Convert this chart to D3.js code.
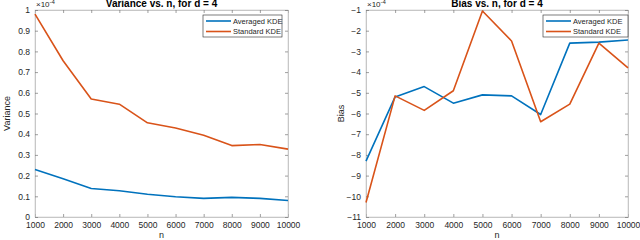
<!DOCTYPE html>
<html><head><meta charset="utf-8">
<script src="https://cdn.jsdelivr.net/npm/d3@7"></script>
<style>body{margin:0;background:#fff}svg{display:block}text{font-family:Helvetica,"Liberation Sans",Arial,sans-serif}</style>
</head><body><svg id="c" width="640" height="240"></svg>
<script>
const nValues = [1000,2000,3000,4000,5000,6000,7000,8000,9000,10000];
const varAveraged = [0.23,0.185,0.138,0.127,0.11,0.098,0.09,0.095,0.09,0.08];
const varStandard = [0.98,0.755,0.57,0.545,0.455,0.43,0.395,0.345,0.35,0.328];
const biasAveraged = [-8.3,-5.2,-4.7,-5.5,-5.1,-5.15,-6.05,-2.6,-2.55,-2.45];
const biasStandard = [-10.3,-5.15,-5.85,-4.9,-1.05,-2.5,-6.4,-5.55,-2.6,-3.8];
const varTicks = [0,0.1,0.2,0.3,0.4,0.5,0.6,0.7,0.8,0.9,1];
const biasTicks = [-11,-10,-9,-8,-7,-6,-5,-4,-3,-2,-1];
const seriesNames = ["Averaged KDE","Standard KDE"];
const colors = ["#0072BD","#D95319"];

const svg = d3.select("#c");
const axColor = "#262626";

function panel(o){
  const g = svg.append("g");
  const x = d3.scaleLinear().domain([1000,10000]).range([o.x0,o.x1]);
  const y = d3.scaleLinear().domain(o.ydom).range([o.y1,o.y0]);
  // box
  g.append("rect").attr("x",o.x0).attr("y",o.y0).attr("width",o.x1-o.x0).attr("height",o.y1-o.y0)
    .attr("fill","none").attr("stroke","#c8c8c8").attr("stroke-width",0.6);
  const fmtX = d3.format("d");
  const bx = g.append("g").attr("transform",`translate(0,${o.y1})`)
    .call(d3.axisBottom(x).tickValues(nValues).tickFormat(fmtX).tickSize(-3).tickPadding(5));
  const tx = g.append("g").attr("transform",`translate(0,${o.y0})`)
    .call(d3.axisTop(x).tickValues(nValues).tickFormat("").tickSize(-3));
  const ly = g.append("g").attr("transform",`translate(${o.x0},0)`)
    .call(d3.axisLeft(y).tickValues(o.yticks).tickFormat(o.yfmt).tickSize(-3).tickPadding(5));
  const ry = g.append("g").attr("transform",`translate(${o.x1},0)`)
    .call(d3.axisRight(y).tickValues(o.yticks).tickFormat("").tickSize(-3));
  [bx,tx,ly,ry].forEach(a=>{
    a.select(".domain").attr("stroke","#bdbdbd").attr("stroke-width",0.8);
    a.selectAll(".tick line").attr("stroke","#777").attr("stroke-width",0.7);
    a.selectAll("text").attr("fill",axColor).attr("font-size",8.5);
  });
  const line = d3.line().x((d,i)=>x(nValues[i])).y(d=>y(d));
  o.series.forEach((s,i)=>{
    g.append("path").datum(s).attr("d",line).attr("fill","none")
      .attr("stroke",colors[i]).attr("stroke-width",1.6).attr("stroke-linejoin","round");
  });
  // title
  g.append("text").attr("x",(o.x0+o.x1)/2).attr("y",7).attr("text-anchor","middle")
    .attr("font-size",10).attr("font-weight","bold").attr("fill","#000").text(o.title);
  // exponent
  const ex = g.append("text").attr("x",o.x0+1).attr("y",7).attr("font-size",8).attr("fill",axColor);
  ex.append("tspan").text("\u00d710");
  ex.append("tspan").attr("dy",-3).attr("font-size",6).text("-4");
  // axis labels
  g.append("text").attr("x",(o.x0+o.x1)/2).attr("y",238).attr("text-anchor","middle")
    .attr("font-size",9).attr("fill",axColor).text("n");
  g.append("text").attr("transform",`translate(${o.ylx},${(o.y0+o.y1)/2}) rotate(-90)`)
    .attr("text-anchor","middle").attr("font-size",9).attr("fill",axColor).text(o.ylabel);
  // legend
  const lg = g.append("g").attr("transform",`translate(${o.lx},${o.ly})`);
  lg.append("rect").attr("width",o.lw).attr("height",22).attr("fill","#fff")
    .attr("stroke","#262626").attr("stroke-width",0.6);
  seriesNames.forEach((nm,i)=>{
    const yy = 6+i*10.5;
    lg.append("line").attr("x1",3).attr("x2",28).attr("y1",yy).attr("y2",yy)
      .attr("stroke",colors[i]).attr("stroke-width",1.6);
    lg.append("text").attr("x",30).attr("y",yy+2.8).attr("font-size",7.5).attr("fill",axColor).text(nm);
  });
}

panel({x0:35,x1:288,y0:10,y1:217,ydom:[0,1],yticks:varTicks,yfmt:d3.format(""),
  series:[varAveraged,varStandard],title:"Variance vs. n, for d = 4",ylabel:"Variance",ylx:10,
  lx:203,ly:15,lw:79});
panel({x0:366,x1:628,y0:10,y1:217,ydom:[-11,-1],yticks:biasTicks,yfmt:d3.format("d"),
  series:[biasAveraged,biasStandard],title:"Bias vs. n, for d = 4",ylabel:"Bias",ylx:344,
  lx:543,ly:15,lw:85});
</script></body></html>
